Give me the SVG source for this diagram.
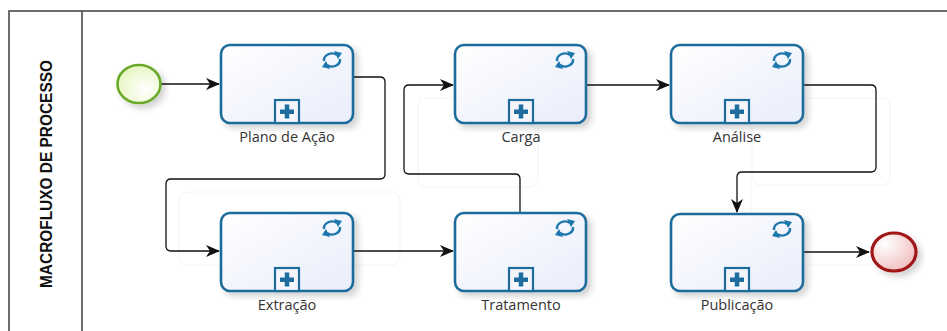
<svg xmlns="http://www.w3.org/2000/svg" xmlns:xlink="http://www.w3.org/1999/xlink" width="947" height="331" viewBox="0 0 947 331">
<style>
.pool{fill:none;stroke:#4a4a4a;stroke-width:1.6}
.ghost{fill:none;stroke:#f5f5f5;stroke-width:1.2}
.task{fill:url(#taskGrad);stroke:#1d6c9b;stroke-width:2.6;filter:url(#shadow)}
.lbl{font-family:"Open Sans","Liberation Sans",sans-serif;font-size:14.5px;fill:#333;text-anchor:middle}
.title{font-family:"Liberation Sans",Arial,sans-serif;font-weight:bold;font-size:16px;fill:#111;text-anchor:middle}
.conn{fill:none;stroke:#111;stroke-width:1.3}
.ico{fill:none;stroke:#1f78ad;stroke-width:2.4}
.icof{fill:#1f78ad}
.sub{fill:#f4f6fc;stroke:#1d6c9b;stroke-width:2.2}
.plus{fill:#1d6c9b}
</style>
<defs>
<linearGradient id="taskGrad" x1="0" y1="0" x2="1" y2="1">
<stop offset="0" stop-color="#ffffff"/>
<stop offset="1" stop-color="#e9edfb"/>
</linearGradient>
<radialGradient id="startGrad" cx="0.65" cy="0.65" r="0.8">
<stop offset="0" stop-color="#ffffff"/>
<stop offset="1" stop-color="#e4f4b8"/>
</radialGradient>
<radialGradient id="endGrad" cx="0.3" cy="0.3" r="0.8">
<stop offset="0" stop-color="#ffffff"/>
<stop offset="1" stop-color="#f1bcbc"/>
</radialGradient>
<filter id="shadow" x="-10%" y="-10%" width="130%" height="140%">
<feDropShadow dx="4" dy="4" stdDeviation="3" flood-color="#000" flood-opacity="0.18"/>
</filter>
<marker id="arrow" viewBox="0 0 14 12" refX="13" refY="6" markerWidth="14" markerHeight="12" markerUnits="userSpaceOnUse" orient="auto">
<path d="M0,0 L14,6 L0,12 L4,6 Z" fill="#111"/>
</marker>
<g id="loopIcon">
<path class="ico" d="M-8,1 A8,7 0 0 1 5,-5"/>
<path class="icof" d="M2,-9 L10,-7 L6,-1 Z"/>
<path class="ico" d="M8,-1 A8,7 0 0 1 -5,5"/>
<path class="icof" d="M-2,9 L-10,7 L-6,1 Z"/>
</g>
<g id="subMarker">
<rect class="sub" x="0" y="0" width="24" height="23"/>
<rect class="plus" x="5" y="9.5" width="14" height="4.5"/>
<rect class="plus" x="9.75" y="4.5" width="4.5" height="14"/>
</g>
</defs>

<rect width="947" height="331" fill="#ffffff"/>

<g id="pool">
<rect class="pool" x="9" y="11" width="950" height="340"/>
<line class="pool" x1="82" y1="11" x2="82" y2="331"/>
<text class="title" transform="translate(52,174) rotate(-90)" textLength="228" lengthAdjust="spacingAndGlyphs">MACROFLUXO DE PROCESSO</text>
</g>

<g id="ghosts">
<rect class="ghost" x="179" y="192" width="221" height="73" rx="8"/>
<rect class="ghost" x="418" y="98" width="120" height="89" rx="8"/>
<rect class="ghost" x="752" y="98" width="138" height="87" rx="8"/>
<path class="ghost" d="M751,180 L751,265 L870,265"/>
</g>

<g id="connectors">
<path class="conn" d="M161,84 L219,84" marker-end="url(#arrow)"/>
<path class="conn" d="M353,77 L380,77 Q385,77 385,82 L385,174 Q385,179 380,179 L171,179 Q166,179 166,184 L166,246 Q166,251 171,251 L219,251" marker-end="url(#arrow)"/>
<path class="conn" d="M353,251 L453,251" marker-end="url(#arrow)"/>
<path class="conn" d="M520,213 L520,179 Q520,174 515,174 L409,174 Q404,174 404,169 L404,90 Q404,85 409,85 L453,85" marker-end="url(#arrow)"/>
<path class="conn" d="M586,85 L669,85" marker-end="url(#arrow)"/>
<path class="conn" d="M803,85 L871,85 Q876,85 876,90 L876,167 Q876,172 871,172 L742,172 Q737,172 737,177 L737,212" marker-end="url(#arrow)"/>
<path class="conn" d="M803,252 L869,252" marker-end="url(#arrow)"/>
</g>

<g id="start">
<ellipse cx="139" cy="84" rx="21.5" ry="19" fill="url(#startGrad)" stroke="#6bab2a" stroke-width="2.6" filter="url(#shadow)"/>
</g>

<g id="plano">
<rect class="task" x="221" y="45" width="132" height="78" rx="9"/>
<use xlink:href="#loopIcon" x="332" y="60"/>
<use xlink:href="#subMarker" x="275" y="100"/>
<text class="lbl" x="287" y="142">Plano de Ação</text>
</g>

<g id="extracao">
<rect class="task" x="221" y="213" width="132" height="78" rx="9"/>
<use xlink:href="#loopIcon" x="332" y="228"/>
<use xlink:href="#subMarker" x="275" y="268"/>
<text class="lbl" x="287" y="310">Extração</text>
</g>

<g id="carga">
<rect class="task" x="455" y="45" width="131" height="78" rx="9"/>
<use xlink:href="#loopIcon" x="565" y="60"/>
<use xlink:href="#subMarker" x="509" y="100"/>
<text class="lbl" x="521" y="142">Carga</text>
</g>

<g id="tratamento">
<rect class="task" x="455" y="213" width="131" height="78" rx="9"/>
<use xlink:href="#loopIcon" x="565" y="228"/>
<use xlink:href="#subMarker" x="509" y="268"/>
<text class="lbl" x="521" y="310">Tratamento</text>
</g>

<g id="analise">
<rect class="task" x="671" y="45" width="132" height="78" rx="9"/>
<use xlink:href="#loopIcon" x="782" y="60"/>
<use xlink:href="#subMarker" x="725" y="100"/>
<text class="lbl" x="737" y="142">Análise</text>
</g>

<g id="publicacao">
<rect class="task" x="671" y="214" width="132" height="77" rx="9"/>
<use xlink:href="#loopIcon" x="782" y="229"/>
<use xlink:href="#subMarker" x="725" y="268"/>
<text class="lbl" x="737" y="310">Publicação</text>
</g>

<g id="end">
<ellipse cx="894" cy="252" rx="22" ry="19" fill="url(#endGrad)" stroke="#a01818" stroke-width="3.2" filter="url(#shadow)"/>
</g>
</svg>
